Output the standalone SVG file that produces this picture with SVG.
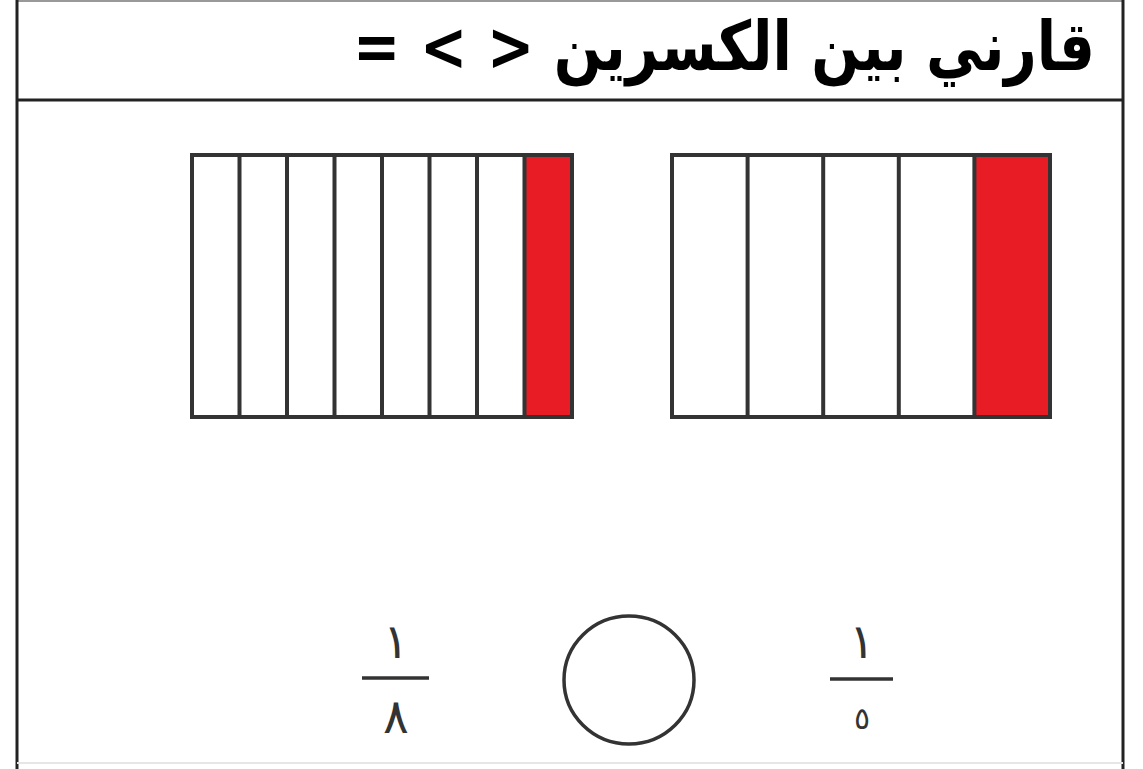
<svg xmlns="http://www.w3.org/2000/svg" width="1143" height="769" viewBox="0 0 1143 769">
<style>
.frame{stroke:#222;stroke-width:3;fill:none}
.cell{fill:#fff;stroke:#333;stroke-width:4}
.red{fill:#e81c24;stroke:#333;stroke-width:4}
.div{stroke:#333;stroke-width:4}
.num{font-family:"DejaVu Sans",sans-serif;font-size:48px;fill:#333;text-anchor:middle}
.bar{stroke:#333;stroke-width:3.5}
</style>
<rect width="1143" height="769" fill="#fff"/>
<g id="frame">
<line x1="17" y1="1" x2="1123" y2="1" stroke="#999" stroke-width="2"/>
<line class="frame" x1="17" y1="0" x2="17" y2="769"/>
<line class="frame" x1="1123" y1="0" x2="1123" y2="769"/>
<line class="frame" x1="17" y1="100" x2="1123" y2="100"/>
<line x1="17" y1="763" x2="1123" y2="763" stroke="#e6e6e6" stroke-width="2"/>
</g>
<g id="title">
<text x="724" y="70" direction="rtl" font-family="DejaVu Sans, sans-serif" font-weight="bold" font-size="68" fill="#000" text-anchor="middle" textLength="742" lengthAdjust="spacingAndGlyphs">قارني بين الكسرين &lt; &gt; =</text>
</g>
<g id="bar-eighths">
<rect class="cell" x="192" y="155" width="380" height="262"/>
<rect class="red" x="524.5" y="155" width="47.5" height="262"/>
<line class="div" x1="239.5" y1="155" x2="239.5" y2="417"/>
<line class="div" x1="287" y1="155" x2="287" y2="417"/>
<line class="div" x1="334.5" y1="155" x2="334.5" y2="417"/>
<line class="div" x1="382" y1="155" x2="382" y2="417"/>
<line class="div" x1="429.5" y1="155" x2="429.5" y2="417"/>
<line class="div" x1="477" y1="155" x2="477" y2="417"/>
</g>
<g id="bar-fifths">
<rect class="cell" x="672" y="155" width="378" height="262"/>
<rect class="red" x="974.4" y="155" width="75.6" height="262"/>
<line class="div" x1="747.6" y1="155" x2="747.6" y2="417"/>
<line class="div" x1="823.2" y1="155" x2="823.2" y2="417"/>
<line class="div" x1="898.8" y1="155" x2="898.8" y2="417"/>
</g>
<g id="fraction-eighth">
<text class="num" x="396" y="658">١</text>
<line class="bar" x1="362" y1="678" x2="429" y2="678"/>
<text class="num" x="396" y="733">٨</text>
</g>
<g id="compare-circle">
<ellipse cx="629" cy="680" rx="65" ry="64" fill="none" stroke="#333" stroke-width="3.5"/>
</g>
<g id="fraction-fifth">
<text class="num" x="862" y="658">١</text>
<line class="bar" x1="830" y1="679" x2="893" y2="679"/>
<text class="num" x="862" y="729" style="font-size:30px">٥</text>
</g>
</svg>
